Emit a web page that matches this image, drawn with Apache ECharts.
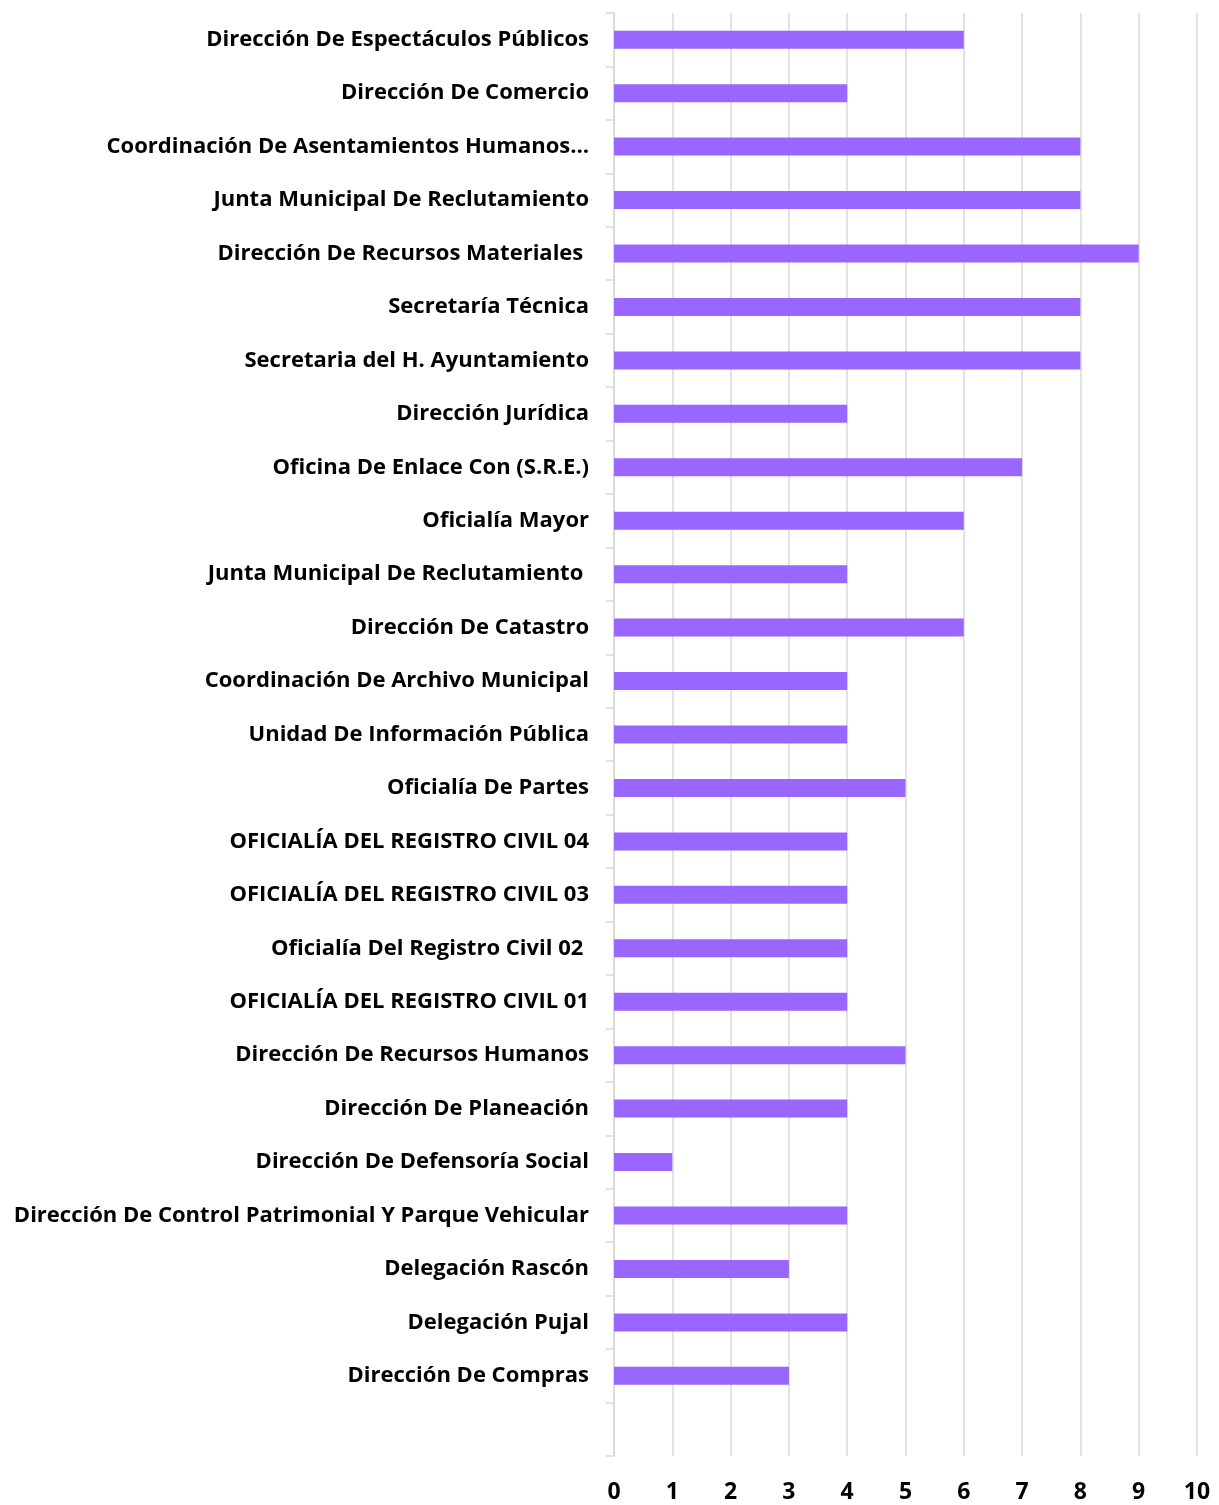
<!DOCTYPE html>
<html>
<head>
<meta charset="utf-8">
<script src="https://cdn.jsdelivr.net/npm/echarts@6/dist/echarts.min.js"></script>
<style>
  html, body { margin: 0; padding: 0; background: #fff; }
  #chart { width: 1219px; height: 1505px; }
</style>
</head>
<body>
<div id="chart"></div>
<script>
// categories, top to bottom (last slot is empty in the original)
const categories = [
  "Dirección De Espectáculos Públicos",
  "Dirección De Comercio",
  "Coordinación De Asentamientos Humanos…",
  "Junta Municipal De Reclutamiento",
  "Dirección De Recursos Materiales ",
  "Secretaría Técnica",
  "Secretaria del H. Ayuntamiento",
  "Dirección Jurídica",
  "Oficina De Enlace Con (S.R.E.)",
  "Oficialía Mayor",
  "Junta Municipal De Reclutamiento ",
  "Dirección De Catastro",
  "Coordinación De Archivo Municipal",
  "Unidad De Información Pública",
  "Oficialía De Partes",
  "OFICIALÍA DEL REGISTRO CIVIL 04",
  "OFICIALÍA DEL REGISTRO CIVIL 03",
  "Oficialía Del Registro Civil 02 ",
  "OFICIALÍA DEL REGISTRO CIVIL 01",
  "Dirección De Recursos Humanos",
  "Dirección De Planeación",
  "Dirección De Defensoría Social",
  "Dirección De Control Patrimonial Y Parque Vehicular",
  "Delegación Rascón",
  "Delegación Pujal",
  "Dirección De Compras",
  ""
];
const values = [6, 4, 8, 8, 9, 8, 8, 4, 7, 6, 4, 6, 4, 4, 5, 4, 4, 4, 4, 5, 4, 1, 4, 3, 4, 3, null];

const chart = echarts.init(document.getElementById("chart"));
chart.setOption({
  animation: false,
  grid: { left: 614, right: 22, top: 13, bottom: 49 },
  xAxis: {
    type: "value",
    min: 0,
    max: 10,
    interval: 1,
    axisLine: { show: false },
    axisTick: { show: false },
    splitLine: { show: true, lineStyle: { color: "#d9d9d9", width: 1.5 } },
    axisLabel: {
      margin: 25,
      color: "#000",
      fontFamily: "Open Sans",
      fontWeight: "bold",
      fontSize: 23
    }
  },
  yAxis: {
    type: "category",
    inverse: true,
    data: categories,
    axisLine: { show: true, lineStyle: { color: "#d9d9d9", width: 1.5 } },
    axisTick: { show: true, length: 8, lineStyle: { color: "#d9d9d9", width: 1.5 } },
    axisLabel: {
      margin: 25,
      color: "#000",
      fontFamily: "Open Sans",
      fontWeight: "bold",
      fontSize: 22,
      interval: 0
    }
  },
  series: [{
    type: "bar",
    data: values,
    barWidth: 18,
    itemStyle: { color: "#9966ff" }
  }]
});
</script>
</body>
</html>
